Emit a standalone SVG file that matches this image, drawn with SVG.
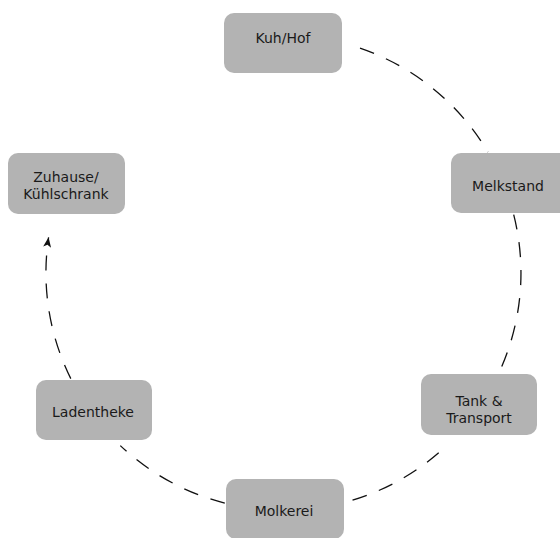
<svg xmlns="http://www.w3.org/2000/svg" width="560" height="538" viewBox="0 0 560 538">
<style>
.node rect { fill: #b3b3b3; }
.node text { font-family: "DejaVu Sans", Verdana, sans-serif; font-size: 14px; fill: #1a1a1a; text-anchor: middle; }
.edge { fill: none; stroke: #111; stroke-width: 1.3; stroke-dasharray: 15 13; }
</style>
<defs>
<marker id="arrow" markerUnits="userSpaceOnUse" markerWidth="12" markerHeight="10" refX="10" refY="4" orient="auto">
<path d="M0,0 L10,4 L0,8 L2.5,4 z" fill="#111"/>
</marker>
</defs>
<rect width="560" height="538" fill="#fff"/>
<g id="connectors">
<path class="edge" d="M360,48.2 A237.5,237.5 0 0 1 487.9,152.1"/>
<path class="edge" d="M513.7,214.7 A237.5,237.5 0 0 1 498.7,373.4"/>
<path class="edge" d="M438.7,452.8 A237.5,237.5 0 0 1 343.4,502.8"/>
<path class="edge" d="M224.8,503.1 A237.5,237.5 0 0 1 120.3,445.6"/>
<path class="edge" d="M70.8,378.6 A237.5,237.5 0 0 1 48.6,237.3" marker-end="url(#arrow)"/>
</g>
<g id="kuh" class="node"><rect x="224" y="13" width="118" height="60" rx="10"/><text x="283" y="43">Kuh/Hof</text></g>
<g id="melkstand" class="node"><rect x="451" y="153" width="118" height="60" rx="10"/><text x="508" y="191">Melkstand</text></g>
<g id="tank" class="node"><rect x="421" y="374" width="116" height="61" rx="10"/><text x="479" y="406">Tank &amp;</text><text x="479" y="423">Transport</text></g>
<g id="molkerei" class="node"><rect x="226" y="479" width="118" height="60" rx="10"/><text x="284" y="516">Molkerei</text></g>
<g id="laden" class="node"><rect x="36" y="380" width="116" height="60" rx="10"/><text x="93" y="416.5">Ladentheke</text></g>
<g id="zuhause" class="node"><rect x="8" y="153" width="117" height="61" rx="10"/><text x="66" y="181.5">Zuhause/</text><text x="66" y="198.5">Kühlschrank</text></g>
</svg>
